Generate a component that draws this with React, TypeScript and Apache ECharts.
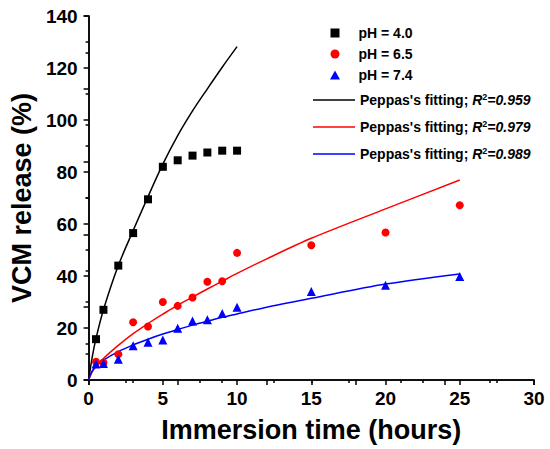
import React, { useEffect, useRef } from 'react';
import * as echarts from 'echarts';

const FONT = '"Liberation Sans", Arial, sans-serif';

// Measured data (hours, % released)
const time40 = [0.5, 1, 2, 3, 4, 5, 6, 7, 8, 9, 10];
const release40 = [15.7, 27, 44, 56.5, 69.5, 82, 84.5, 86.3, 87.5, 88.2, 88.2];

const timeAll = [0.5, 1, 2, 3, 4, 5, 6, 7, 8, 9, 10, 15, 20, 25];
const release65 = [7, 6.7, 9.9, 22.2, 20.6, 30, 28.5, 31.7, 37.8, 38, 48.9, 51.8, 56.7, 67.2];
const release74 = [6.2, 6.3, 8, 13.2, 14.5, 15.4, 19.9, 22.7, 23.2, 25.6, 28, 34, 36.4, 39.8];

// Peppas fitting curves
const fitTime40 = [0, 0.25, 0.5, 1, 2, 3, 4, 5, 6, 7, 8, 9, 10];
const fitValue40 = [0, 9, 16, 27, 44, 57.5, 70.5, 83, 94, 103.5, 112, 120.3, 128.2];
const fitTime = [0, 0.25, 0.5, 1, 2, 3, 4, 5, 6, 7, 8, 9, 10, 12, 15, 20, 25];
const fitValue65 = [0, 3.2, 5.2, 8.3, 13.3, 17.8, 21.7, 25.3, 28.8, 31.9, 35, 38, 41, 46.6, 54.5, 65.8, 76.9];
const fitValue74 = [0, 3.6, 5.2, 7.6, 10.9, 13.5, 15.7, 17.7, 19.4, 21.1, 22.6, 24.1, 25.4, 28, 31.4, 36.9, 40.8];

const scatterNames = ['pH = 4.0', 'pH = 6.5', 'pH = 7.4'];
const scatterIcons = [
  'path://M0,0h9v9h-9z',
  'path://M5,0A5,5,0,1,1,5,10A5,5,0,1,1,5,0z',
  'path://M5,0L10,9L0,9z',
];
const fitNames = ['fit40', 'fit65', 'fit74'];
const fitR2 = ['0.959', '0.979', '0.989'];
const colors = ['#000000', '#ff0000', '#0000ff'];

const zip = (xs: number[], ys: number[]) => xs.map((x, i) => [x, ys[i]]);

export default function App() {
  const ref = useRef<HTMLDivElement>(null);
  useEffect(() => {
    document.body.style.margin = '0';
    const chart = echarts.init(ref.current!, null, { renderer: 'svg' });
    const axisLine = { show: true, lineStyle: { color: '#000', width: 1.5 } };
    const tickStyle = { color: '#000', width: 1.5 };
    const labelStyle = { color: '#000', fontSize: 19, fontWeight: 'bold' as const, fontFamily: FONT };
    const option: any = {
      animation: false,
      backgroundColor: '#fff',
      grid: { left: 81, right: 16, top: 16, bottom: 69, containLabel: false },
      xAxis: [
        {
          type: 'value', min: 0, max: 30, interval: 5, position: 'bottom',
          axisLine,
          axisTick: { show: true, inside: false, length: 5, lineStyle: tickStyle },
          minorTick: { show: true, splitNumber: 2, length: 3, lineStyle: tickStyle },
          splitLine: { show: false },
          axisLabel: { ...labelStyle, margin: 9 },
          name: 'Immersion time (hours)', nameLocation: 'middle', nameGap: 36,
          nameTextStyle: { color: '#000', fontSize: 27, fontWeight: 'bold', fontFamily: FONT },
        },
        {
          type: 'value', min: 0, max: 30, interval: 6, position: 'top',
          axisLine,
          axisTick: { show: true, inside: true, length: 5, lineStyle: tickStyle },
          minorTick: { show: true, splitNumber: 2, length: 3, lineStyle: tickStyle },
          splitLine: { show: false },
          axisLabel: { show: false },
        },
      ],
      yAxis: [
        {
          type: 'value', min: 0, max: 140, interval: 20, position: 'left',
          axisLine,
          axisTick: { show: true, inside: false, length: 5, lineStyle: tickStyle },
          minorTick: { show: true, splitNumber: 2, length: 3, lineStyle: tickStyle },
          splitLine: { show: false },
          axisLabel: { ...labelStyle, margin: 11 },
          name: 'VCM release (%)', nameLocation: 'middle', nameGap: 50,
          nameTextStyle: { color: '#000', fontSize: 27, fontWeight: 'bold', fontFamily: FONT },
        },
        {
          type: 'value', min: 0, max: 140, interval: 28, position: 'right',
          axisLine,
          axisTick: { show: true, inside: true, length: 5, lineStyle: tickStyle },
          minorTick: { show: true, splitNumber: 2, length: 3, lineStyle: tickStyle },
          splitLine: { show: false },
          axisLabel: { show: false },
        },
      ],
      legend: [
        {
          data: scatterNames.map((n, i) => ({ name: n, icon: scatterIcons[i] })),
          orient: 'vertical', left: 325, top: 21,
          itemWidth: 37, itemHeight: 9, itemGap: 7,
          symbolKeepAspect: true,
          textStyle: { color: '#000', fontSize: 14, fontWeight: 'bold', fontFamily: FONT, lineHeight: 14 },
        },
        {
          data: fitNames.map((n) => ({ name: n, icon: 'path://M0,0h42v1.5h-42z' })),
          orient: 'vertical', left: 308, top: 87,
          itemWidth: 42, itemHeight: 14, itemGap: 11,
          symbolKeepAspect: true,
          formatter: (name: string) => `{b|Peppas's fitting; }{i|R}{s|2}{i|=${fitR2[fitNames.indexOf(name)]}}`,
          textStyle: {
            color: '#000', fontSize: 14, fontWeight: 'bold', fontFamily: FONT, lineHeight: 16,
            rich: {
              b: { fontSize: 14, fontWeight: 'bold', fontFamily: FONT, lineHeight: 16, color: '#000' },
              i: { fontSize: 14, fontWeight: 'bold', fontStyle: 'italic', fontFamily: FONT, lineHeight: 16, color: '#000' },
              s: { fontSize: 9, fontWeight: 'bold', fontFamily: FONT, lineHeight: 9, verticalAlign: 'top', color: '#000' },
            },
          },
        },
      ],
      series: [
        {
          name: fitNames[0], type: 'line', data: zip(fitTime40, fitValue40), smooth: 0.3,
          symbol: 'none', lineStyle: { color: colors[0], width: 1.5 }, itemStyle: { color: colors[0] }, z: 1,
        },
        {
          name: fitNames[1], type: 'line', data: zip(fitTime, fitValue65), smooth: 0.3,
          symbol: 'none', lineStyle: { color: colors[1], width: 1.5 }, itemStyle: { color: colors[1] }, z: 1,
        },
        {
          name: fitNames[2], type: 'line', data: zip(fitTime, fitValue74), smooth: 0.3,
          symbol: 'none', lineStyle: { color: colors[2], width: 1.5 }, itemStyle: { color: colors[2] }, z: 1,
        },
        {
          name: scatterNames[0], type: 'scatter', data: zip(time40, release40), symbol: 'rect', symbolSize: 8,
          itemStyle: { color: colors[0], opacity: 1 }, z: 3,
        },
        {
          name: scatterNames[1], type: 'scatter', data: zip(timeAll, release65), symbol: 'circle', symbolSize: 8,
          itemStyle: { color: colors[1], opacity: 1 }, z: 3,
        },
        {
          name: scatterNames[2], type: 'scatter', data: zip(timeAll, release74), symbol: 'triangle', symbolSize: 9,
          itemStyle: { color: colors[2], opacity: 1 }, z: 3,
        },
      ],
    };
    chart.setOption(option);
    return () => chart.dispose();
  }, []);
  return <div ref={ref} style={{ width: 550, height: 449 }} />;
}
